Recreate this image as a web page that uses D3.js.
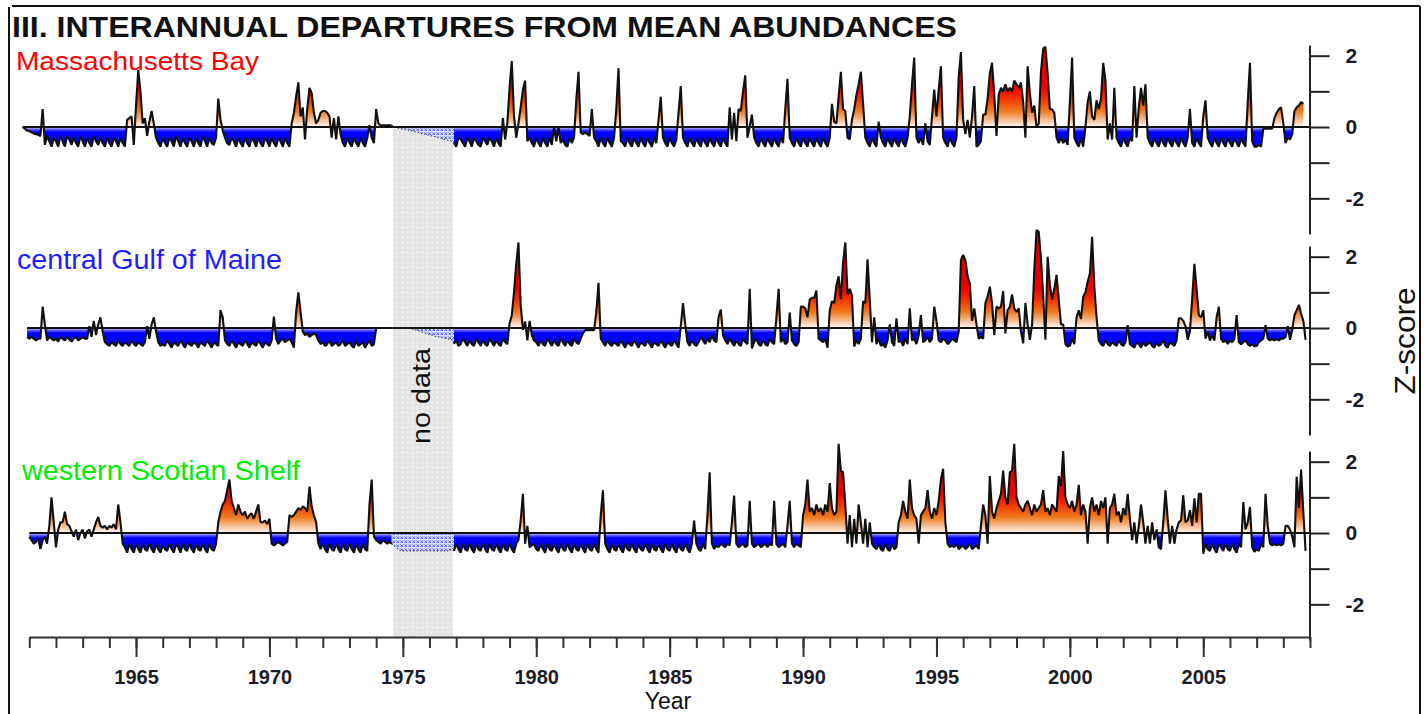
<!DOCTYPE html>
<html>
<head>
<meta charset="utf-8">
<script src="https://cdn.jsdelivr.net/npm/d3@7"></script>
<style>
  body { margin: 0; background: #fff; }
  svg { display: block; }
  text { font-family: "Liberation Sans", Arial, sans-serif; }
</style>
</head>
<body>
<svg id="chart" width="1427" height="714"></svg>
<script>
// Monthly Z-scores, one row per year (Jan..Dec)
const massBayStart = 1960.75;
const massBay = [
  0, -0.05, -0.1,
  -0.12,-0.15,-0.18,-0.2,-0.22,-0.25,0.5,-0.5,-0.25,-0.4,-0.55,-0.3,
  -0.4,-0.55,-0.25,-0.4,-0.55,-0.25,-0.35,-0.5,-0.3,-0.45,-0.55,-0.25,
  -0.4,-0.55,-0.3,-0.45,-0.55,-0.25,-0.4,-0.5,-0.3,-0.45,-0.55,-0.3,
  -0.45,-0.55,-0.3,-0.4,-0.55,-0.3,-0.45,-0.55,0.2,0.25,0.3,-0.5,
  0.6,1.6,1.0,0.1,0.25,-0.25,0.15,0.45,0.1,-0.3,-0.45,-0.55,
  -0.3,-0.45,-0.55,-0.3,-0.4,-0.55,-0.25,-0.4,-0.55,-0.3,-0.45,-0.55,
  -0.3,-0.4,-0.55,-0.3,-0.45,-0.55,-0.25,-0.4,-0.55,-0.3,-0.45,-0.5,
  -0.3,0.8,0.2,-0.1,-0.3,-0.45,-0.5,-0.3,-0.4,-0.55,-0.3,-0.45,
  -0.55,-0.3,-0.45,-0.55,-0.3,-0.4,-0.55,-0.3,-0.45,-0.55,-0.3,-0.4,
  -0.55,-0.3,-0.45,-0.55,-0.3,-0.4,-0.55,-0.3,-0.45,-0.55,0.1,0.4,
  0.85,1.25,0.3,0.55,-0.35,0.5,1.1,0.95,0.4,0.1,0.2,0.4,
  0.45,0.45,0.4,0.3,-0.3,0.25,-0.35,0.3,-0.2,-0.45,-0.55,-0.3,
  -0.45,-0.55,-0.3,-0.45,-0.55,-0.3,-0.45,-0.55,-0.3,0.05,-0.3,-0.45,
  0.5,0.1,0.05,0.05,0.05,0.05,0.05,0.05,0.03,0.0,-0.03,-0.05,
  -0.05,-0.06,-0.08,-0.1,-0.1,-0.12,-0.14,-0.15,-0.17,-0.19,-0.2,-0.22,
  -0.23,-0.25,-0.26,-0.28,-0.3,-0.31,-0.33,-0.35,-0.37,-0.38,-0.4,-0.45,
  -0.55,-0.3,-0.35,-0.45,-0.55,-0.3,-0.4,-0.55,-0.3,-0.4,-0.5,-0.55,
  -0.3,-0.4,-0.5,-0.3,-0.4,-0.55,-0.3,-0.45,-0.55,0.25,-0.35,0.1,
  1.1,1.85,0.3,-0.3,0.1,0.55,1.05,1.3,-0.4,-0.3,-0.45,-0.55,
  -0.3,-0.45,-0.55,-0.3,-0.45,-0.55,-0.3,-0.5,0.0,-0.4,0.0,-0.45,
  -0.35,-0.5,-0.55,-0.3,-0.45,-0.3,0.75,1.55,-0.15,-0.2,-0.15,-0.2,
  -0.25,0.5,-0.3,-0.4,-0.55,-0.3,-0.45,-0.55,-0.3,-0.45,-0.55,-0.3,
  0.5,1.65,-0.4,-0.45,-0.55,-0.3,-0.45,-0.55,-0.3,-0.45,-0.55,-0.3,
  -0.45,-0.55,-0.3,-0.45,-0.55,-0.3,-0.45,0.2,0.85,-0.3,-0.45,-0.55,
  -0.3,-0.45,-0.55,-0.35,0.4,1.15,-0.3,-0.45,-0.55,-0.3,-0.45,-0.55,
  -0.3,-0.45,-0.55,-0.3,-0.45,-0.55,-0.3,-0.45,-0.55,-0.3,-0.45,-0.55,
  -0.3,-0.45,-0.55,0.55,-0.35,0.4,-0.4,0.5,0.45,1.0,1.45,-0.3,
  0.0,0.35,-0.3,-0.45,-0.55,-0.3,-0.45,-0.55,-0.3,-0.45,-0.55,-0.3,
  -0.45,-0.55,-0.3,-0.45,0.5,1.35,-0.3,-0.45,-0.55,-0.3,-0.45,-0.55,
  -0.3,-0.45,-0.55,-0.3,-0.45,-0.55,-0.3,-0.45,-0.55,-0.3,-0.45,-0.55,
  -0.3,0.65,0.15,0.1,0.85,1.55,0.5,0.45,-0.3,-0.35,0.2,0.5,
  0.9,1.2,1.55,0.65,-0.3,-0.45,-0.55,-0.3,-0.45,-0.55,0.15,-0.3,
  -0.45,-0.55,-0.3,-0.45,-0.55,-0.3,-0.45,-0.55,-0.3,-0.45,-0.55,-0.3,
  0.3,1.2,1.95,-0.3,-0.45,-0.3,-0.5,0.1,-0.4,-0.5,0.3,1.05,
  0.3,1.05,1.7,-0.3,-0.45,-0.55,-0.3,-0.45,-0.55,-0.3,1.4,2.1,
  0.2,-0.2,0.2,-0.3,0.3,1.15,-0.55,-0.5,-0.4,0.35,0.35,0.8,
  1.5,1.8,0.9,-0.25,0.9,1.1,1.0,1.2,1.0,1.1,1.0,1.3,
  1.2,1.1,1.25,0.7,-0.3,1.7,0.95,0.4,0.6,0.0,0.1,1.55,
  2.2,2.25,1.5,0.5,0.5,0.4,-0.3,-0.45,-0.3,-0.45,-0.35,-0.5,
  0.7,1.95,-0.3,-0.45,-0.55,-0.3,-0.55,0.0,0.7,1.0,0.3,0.2,
  0.75,0.5,0.8,1.8,1.3,-0.35,0.1,-0.35,1.1,-0.3,-0.45,-0.55,
  -0.3,-0.45,-0.55,-0.3,-0.4,1.15,-0.3,0.55,1.1,0.6,1.2,-0.3,
  -0.45,-0.55,-0.3,-0.45,-0.55,-0.3,-0.45,-0.55,-0.3,-0.45,-0.55,-0.3,
  -0.45,-0.55,-0.3,-0.45,-0.55,-0.3,0.5,-0.45,-0.55,-0.3,-0.45,-0.55,
  0.3,0.75,-0.3,-0.45,-0.55,-0.3,-0.45,-0.55,-0.3,-0.45,-0.55,-0.3,
  -0.45,-0.55,-0.3,-0.45,-0.55,-0.3,-0.45,-0.55,0.7,1.8,-0.4,-0.55,
  -0.55,-0.5,-0.55,-0.05,-0.05,-0.05,-0.05,-0.05,0.25,0.4,0.5,0.55,
  0.1,-0.45,-0.3,-0.35,-0.2,0.45,0.55,0.6,0.7,0.65
];

const gulfMaineStart = 1960.917;
const gulfMaine = [
  -0.25,
  -0.3,-0.25,-0.3,-0.35,-0.3,-0.3,0.6,0.1,-0.35,-0.25,-0.3,-0.35,
  -0.3,-0.38,-0.25,-0.3,-0.35,-0.25,-0.32,-0.38,-0.3,-0.25,-0.35,-0.3,
  -0.25,-0.3,-0.3,0.05,-0.25,0.2,-0.2,0.1,0.3,-0.1,-0.4,-0.45,
  -0.5,-0.4,-0.45,-0.5,-0.35,-0.45,-0.5,-0.4,-0.45,-0.5,-0.35,-0.45,
  -0.5,-0.4,-0.45,-0.5,-0.4,0.05,-0.3,0.1,0.3,-0.1,-0.4,-0.5,
  -0.45,-0.5,-0.35,-0.45,-0.55,-0.4,-0.45,-0.5,-0.35,-0.45,-0.55,-0.4,
  -0.45,-0.5,-0.4,-0.45,-0.55,-0.4,-0.45,-0.5,-0.35,-0.45,-0.55,-0.4,
  -0.45,-0.5,0.5,0.3,-0.35,-0.45,-0.5,-0.35,-0.45,-0.55,-0.4,-0.45,
  -0.5,-0.35,-0.45,-0.55,-0.4,-0.45,-0.5,-0.35,-0.45,-0.55,-0.4,-0.45,
  -0.5,-0.35,0.32,-0.3,-0.45,-0.35,-0.3,-0.4,-0.35,-0.3,-0.4,-0.55,
  0.45,1.0,0.45,-0.1,-0.2,-0.15,-0.25,-0.2,-0.15,-0.2,-0.35,-0.45,
  -0.4,-0.5,-0.45,-0.35,-0.5,-0.45,-0.4,-0.5,-0.45,-0.35,-0.5,-0.45,
  -0.4,-0.5,-0.55,-0.35,-0.5,-0.45,-0.4,-0.55,-0.45,-0.35,-0.5,-0.45,
  0,0,0,0,0,0,0,0,0,0,0,0,
  0,0,0,0,-0.02,-0.04,-0.06,-0.08,-0.1,-0.12,-0.14,-0.16,
  -0.18,-0.2,-0.22,-0.24,-0.25,-0.26,-0.28,-0.29,-0.3,-0.31,-0.33,-0.45,
  -0.35,-0.5,-0.45,-0.3,-0.4,-0.5,-0.35,-0.45,-0.5,-0.3,-0.4,-0.5,
  -0.35,-0.45,-0.5,-0.3,-0.4,-0.5,-0.35,-0.45,-0.5,-0.3,-0.4,-0.45,
  0.13,0.36,1.0,1.8,2.4,0.65,-0.05,0.18,-0.35,0.2,-0.2,-0.35,
  -0.4,-0.5,-0.35,-0.45,-0.5,-0.3,-0.4,-0.5,-0.35,-0.45,-0.5,-0.3,
  -0.4,-0.5,-0.35,-0.45,-0.5,-0.3,-0.4,-0.45,-0.3,-0.15,-0.06,-0.06,
  -0.06,-0.06,-0.06,0.45,1.27,-0.3,-0.4,-0.5,-0.35,-0.45,-0.5,-0.4,
  -0.45,-0.5,-0.35,-0.45,-0.55,-0.4,-0.45,-0.5,-0.35,-0.45,-0.55,-0.4,
  -0.45,-0.5,-0.35,-0.45,-0.55,-0.4,-0.45,-0.5,-0.35,-0.45,-0.55,-0.4,
  -0.45,-0.5,-0.35,-0.45,-0.55,0.05,0.7,0.1,-0.4,-0.5,-0.35,-0.45,
  -0.5,-0.4,-0.25,-0.35,-0.45,-0.3,-0.4,-0.2,-0.35,-0.4,0.3,0.52,
  -0.2,-0.35,-0.45,-0.3,-0.4,-0.5,-0.35,-0.45,-0.5,-0.3,-0.4,-0.45,
  1.1,-0.57,-0.4,-0.3,-0.45,-0.5,-0.35,-0.45,-0.5,-0.3,-0.4,-0.45,
  0.3,1.1,-0.4,-0.3,-0.45,-0.4,0.43,-0.35,-0.45,-0.5,-0.4,0.6,
  0.6,0.55,0.3,0.8,0.85,0.85,1.05,-0.3,-0.35,-0.4,-0.3,-0.55,
  0.5,0.75,0.7,1.2,1.45,0.8,1.85,2.4,0.95,1.1,0.9,-0.52,
  -0.35,-0.45,-0.3,0.75,0.7,1.93,0.8,-0.4,0.3,-0.45,-0.3,-0.5,
  -0.45,-0.55,-0.35,0.1,-0.4,-0.5,0.27,-0.4,-0.35,-0.5,-0.3,-0.45,
  0.55,-0.35,-0.3,-0.45,-0.2,0.36,-0.4,-0.35,-0.25,-0.4,-0.3,0.6,
  0.2,-0.35,-0.4,-0.3,-0.35,-0.45,-0.4,-0.3,-0.35,-0.4,-0.1,1.9,
  2.05,1.9,1.45,1.25,0.2,0.55,0.1,-0.3,-0.25,-0.3,0.7,0.88,
  1.16,0.7,-0.2,0.6,0.55,0.6,1.04,-0.15,0.5,0.6,0.94,0.55,
  0.45,0.55,-0.1,-0.43,0.7,0.1,-0.33,0.1,1.63,2.75,2.7,1.95,
  0.9,-0.33,2.0,1.2,0.8,1.1,1.49,0.8,0.1,0.1,-0.45,-0.52,
  -0.5,-0.3,-0.45,0.3,0.5,0.25,0.88,1.0,1.3,1.53,2.56,1.16,
  0.3,-0.35,-0.45,-0.5,-0.35,-0.45,-0.5,-0.4,-0.45,-0.5,-0.35,-0.45,
  -0.5,-0.4,0.08,-0.45,-0.5,-0.55,-0.4,-0.45,-0.55,-0.4,-0.5,-0.45,
  -0.4,-0.5,-0.55,-0.4,-0.5,-0.45,-0.35,-0.5,-0.55,-0.4,-0.45,-0.5,
  -0.35,0.27,0.27,0.2,0.05,-0.33,-0.1,0.83,1.8,1.1,0.36,0.3,
  0.5,-0.3,-0.1,-0.35,-0.2,-0.35,0.3,0.6,-0.3,-0.4,-0.35,-0.45,
  -0.35,-0.4,-0.3,0.36,-0.4,-0.45,-0.4,-0.35,-0.45,-0.5,-0.45,-0.52,
  -0.5,-0.4,-0.35,-0.3,0.08,-0.3,-0.35,-0.3,-0.35,-0.3,-0.35,-0.3,
  -0.3,-0.25,0.05,-0.33,-0.05,0.36,0.5,0.65,0.4,0.2,-0.33
];

const scotianShelfStart = 1961.0;
const scotianShelf = [
  -0.1,-0.2,-0.3,-0.25,-0.15,-0.45,-0.2,-0.1,-0.3,0.2,1.0,0.3,
  -0.4,0.1,0.3,0.3,0.6,0.25,0.2,0.05,-0.1,0.1,-0.2,0.0,
  0.1,-0.15,0.05,0.1,-0.1,0.1,0.3,0.45,0.2,0.15,0.2,0.1,
  0.2,0.15,0.25,0.1,0.8,0.3,-0.3,-0.4,-0.55,-0.3,-0.45,-0.55,
  -0.3,-0.45,-0.55,-0.3,-0.45,-0.5,-0.3,-0.45,-0.55,-0.3,-0.45,-0.55,
  -0.35,-0.45,-0.5,-0.3,-0.45,-0.55,-0.3,-0.4,-0.55,-0.3,-0.45,-0.5,
  -0.3,-0.45,-0.55,-0.3,-0.45,-0.5,-0.3,-0.45,-0.55,-0.3,-0.45,-0.5,
  -0.3,0.3,0.6,0.8,0.9,1.2,1.5,0.9,0.7,0.5,0.8,0.6,
  0.5,0.6,0.4,0.5,0.55,0.4,0.6,0.8,0.3,0.3,0.35,0.25,
  0.4,-0.3,-0.35,-0.3,-0.25,-0.3,-0.35,-0.3,-0.25,0.5,0.45,0.5,
  0.6,0.7,0.65,0.75,0.7,0.6,1.3,0.75,0.5,0.3,-0.3,-0.45,
  -0.3,-0.45,-0.55,-0.3,-0.45,-0.5,-0.3,-0.45,-0.55,-0.3,-0.45,-0.5,
  -0.3,-0.45,-0.55,-0.3,-0.45,-0.55,-0.3,-0.45,-0.5,0.8,1.5,-0.1,
  -0.2,-0.25,-0.3,-0.2,-0.25,-0.3,-0.25,-0.3,-0.35,-0.4,-0.45,-0.5,
  -0.5,-0.5,-0.5,-0.5,-0.5,-0.5,-0.5,-0.5,-0.5,-0.5,-0.5,-0.5,
  -0.5,-0.5,-0.5,-0.5,-0.5,-0.5,-0.5,-0.5,-0.5,-0.5,-0.45,-0.5,
  -0.3,-0.45,-0.55,-0.3,-0.45,-0.5,-0.3,-0.45,-0.55,-0.3,-0.45,-0.5,
  -0.3,-0.45,-0.55,-0.3,-0.45,-0.5,-0.3,-0.45,-0.55,-0.3,-0.45,-0.5,
  -0.3,-0.45,-0.55,-0.3,-0.2,0.35,1.1,-0.3,0.2,-0.4,-0.35,-0.3,
  -0.45,-0.5,-0.3,-0.45,-0.55,-0.3,-0.45,-0.5,-0.3,-0.45,-0.55,-0.3,
  -0.45,-0.5,-0.3,-0.45,-0.55,-0.3,-0.45,-0.5,-0.3,-0.45,-0.55,-0.3,
  -0.45,-0.5,-0.3,-0.45,-0.55,0.5,1.2,-0.3,-0.45,-0.55,-0.3,-0.45,
  -0.5,-0.3,-0.45,-0.55,-0.3,-0.45,-0.5,-0.3,-0.45,-0.55,-0.3,-0.45,
  -0.5,-0.3,-0.45,-0.55,-0.3,-0.45,-0.5,-0.3,-0.45,-0.55,-0.3,-0.45,
  -0.5,-0.3,-0.45,-0.55,-0.3,-0.45,-0.5,-0.3,-0.45,-0.55,-0.3,0.35,
  -0.3,-0.45,-0.5,-0.3,-0.45,0.5,1.7,-0.3,-0.45,-0.35,-0.4,-0.3,
  -0.35,-0.4,-0.3,-0.35,0.3,1.05,-0.3,-0.4,-0.35,-0.3,-0.4,-0.35,
  0.9,-0.3,-0.4,-0.35,-0.3,-0.4,-0.35,-0.3,-0.4,-0.3,-0.35,0.9,
  -0.3,-0.4,-0.35,-0.3,-0.4,0.2,0.9,-0.3,-0.4,-0.3,-0.35,-0.4,
  0.5,0.8,1.5,0.6,0.7,0.5,0.8,0.6,0.7,0.5,0.8,0.6,
  1.4,0.7,0.5,0.6,2.5,1.75,1.7,0.8,-0.3,0.5,-0.4,0.4,
  -0.3,0.8,0.3,-0.3,0.4,-0.4,0.3,-0.3,-0.4,-0.45,-0.3,-0.45,
  -0.5,-0.3,-0.45,-0.5,-0.3,-0.45,-0.4,0.3,0.5,0.9,0.6,0.4,
  1.5,0.7,0.5,0.4,-0.3,0.5,0.6,0.7,1.2,0.6,0.4,0.7,
  0.5,0.9,1.5,1.8,0.3,-0.3,-0.4,-0.35,-0.4,-0.3,-0.45,-0.4,
  -0.35,-0.45,-0.4,-0.3,-0.45,-0.4,-0.35,-0.45,0.2,0.8,0.5,-0.3,
  1.6,0.6,0.4,0.7,0.9,1.1,1.75,1.0,0.8,1.7,1.75,2.5,
  1.0,0.8,0.7,0.6,0.8,0.9,0.7,0.5,0.8,0.6,0.7,0.8,
  1.2,0.6,0.7,0.5,0.8,0.7,0.6,1.6,1.3,2.3,1.0,0.8,
  0.7,0.9,0.6,0.8,1.35,0.5,0.8,0.6,-0.3,0.7,1.0,0.6,
  0.8,0.5,0.9,0.7,1.0,-0.3,0.7,0.8,1.1,0.5,0.6,0.3,
  0.7,0.5,1.1,0.4,-0.2,0.3,-0.3,0.2,0.8,0.3,-0.3,0.2,
  -0.3,0.3,-0.2,0.1,-0.4,-0.45,0.3,1.2,0.4,-0.3,0.2,-0.3,
  0.1,0.3,0.36,1.06,0.3,0.36,0.64,0.2,0.97,0.3,1.1,1.1,
  -0.58,-0.3,-0.45,-0.5,-0.3,-0.45,-0.55,-0.3,-0.4,-0.5,-0.3,-0.45,
  -0.5,-0.3,-0.45,-0.55,-0.3,-0.4,0.87,0.1,0.3,0.73,-0.4,-0.53,
  -0.45,-0.5,-0.3,-0.4,1.1,0.2,-0.3,-0.35,-0.3,-0.35,-0.3,-0.35,
  -0.3,0.2,0.2,0.1,-0.1,-0.4,1.58,0.7,1.78,0.6,-0.5
];

const panelNames = ["Massachusetts Bay", "central Gulf of Maine", "western Scotian Shelf"];
const panelColors = ["#ff0000", "#1e1eff", "#00ee00"];
const yTickValues = [-2, -1, 0, 1, 2];
const yTickLabels = { "-2": "-2", "0": "0", "2": "2" };
const yearMinorTicks = d3.range(1961, 2010);
const yearMajorTicks = [1965, 1970, 1975, 1980, 1985, 1990, 1995, 2000, 2005];
const noDataSpan = [1974.63, 1976.88];

const series = [
  { start: massBayStart, values: massBay },
  { start: gulfMaineStart, values: gulfMaine },
  { start: scotianShelfStart, values: scotianShelf }
];

const svg = d3.select("#chart");
const defs = svg.append("defs");

const x = d3.scaleLinear().domain([1961, 2009]).range([29.3, 1310]);
const yDomain = [-3, 2.3];
const unit = 35.66;
const panelTops = [45, 246, 451];
const panelH = (yDomain[1] - yDomain[0]) * unit;
const axisX = 1309.5;
const xAxisY = 637;

// hatched backgrounds
const grayPat = defs.append("pattern").attr("id", "grayHatch")
  .attr("patternUnits", "userSpaceOnUse").attr("width", 5).attr("height", 5);
grayPat.append("rect").attr("width", 5).attr("height", 5).attr("fill", "#e3e3e3");
grayPat.append("path").attr("d", "M1,1L4,4M4,1L1,4").attr("stroke", "#f6f6f6").attr("stroke-width", 0.8);

const bluePat = defs.append("pattern").attr("id", "blueHatch")
  .attr("patternUnits", "userSpaceOnUse").attr("width", 4).attr("height", 4);
bluePat.append("rect").attr("width", 4).attr("height", 4).attr("fill", "#dfe2ff");
bluePat.append("path").attr("d", "M0.5,0.5L3,3M3,0.5L0.5,3").attr("stroke", "#3a48ff").attr("stroke-width", 0.9);

// frame
svg.append("path").attr("d", "M12,6H1420M9,7V714M1420,6V714")
  .attr("fill", "none").attr("stroke", "#111").attr("stroke-width", 2);

// title
svg.append("text").attr("x", 12).attr("y", 37)
  .attr("font-size", 30).attr("font-weight", "bold").attr("fill", "#111")
  .attr("textLength", 945).attr("lengthAdjust", "spacingAndGlyphs")
  .text("III. INTERANNUAL DEPARTURES FROM MEAN ABUNDANCES");

// no-data band
svg.append("rect")
  .attr("x", x(noDataSpan[0])).attr("y", 129)
  .attr("width", x(noDataSpan[1]) - x(noDataSpan[0])).attr("height", xAxisY - 129)
  .attr("fill", "url(#grayHatch)");

svg.append("text")
  .attr("transform", `translate(430,396) rotate(-90)`)
  .attr("text-anchor", "middle").attr("font-size", 26).attr("fill", "#111")
  .attr("textLength", 96).attr("lengthAdjust", "spacingAndGlyphs")
  .text("no data");

const labelPos = [
  { x: 16, y: 70, size: 26, len: 243 },
  { x: 17, y: 269, size: 27, len: 265 },
  { x: 22, y: 480, size: 27, len: 278 }
];

series.forEach((s, k) => {
  const top = panelTops[k];
  const y = d3.scaleLinear().domain(yDomain).range([top + panelH, top]);
  const g = svg.append("g");

  // vertical colour ramp: red/orange above zero, blue below
  const gid = "ramp" + k;
  const grad = defs.append("linearGradient").attr("id", gid)
    .attr("gradientUnits", "userSpaceOnUse")
    .attr("x1", 0).attr("x2", 0).attr("y1", y(yDomain[1])).attr("y2", y(yDomain[0]));
  const off = v => (yDomain[1] - v) / (yDomain[1] - yDomain[0]);
  [[2.3, "#d80000"], [1.1, "#f20000"], [0.75, "#f23c00"], [0.45, "#f07a1e"],
   [0.22, "#f6b98c"], [0.02, "#fff2ea"], [0.0, "#fff2ea"],
   [-0.001, "#d4d4ff"], [-0.07, "#5a5aff"], [-0.14, "#0000ff"], [-3, "#0000ff"]]
    .forEach(([v, c]) => grad.append("stop").attr("offset", off(v)).attr("stop-color", c));

  const pts = s.values.map((v, i) => ({ t: s.start + i / 12, v }));
  const solid = d => d.t <= noDataSpan[0] || d.t >= noDataSpan[1] - 0.02;
  const dotted = d => d.t >= noDataSpan[0] - 1 / 12 && d.t <= noDataSpan[1] + 1 / 12;

  const area = d3.area().curve(d3.curveLinear)
    .x(d => x(d.t)).y0(y(0)).y1(d => y(d.v));
  const line = d3.line().curve(d3.curveLinear)
    .x(d => x(d.t)).y(d => y(d.v));

  g.append("path").datum(pts).attr("d", area.defined(solid))
    .attr("fill", `url(#${gid})`);
  g.append("path").datum(pts).attr("d", area.defined(dotted))
    .attr("fill", "url(#blueHatch)");

  // zero line
  g.append("line").attr("x1", x(s.start)).attr("x2", axisX)
    .attr("y1", y(0)).attr("y2", y(0)).attr("stroke", "#111").attr("stroke-width", 1.8);

  g.append("path").datum(pts).attr("d", line.defined(solid))
    .attr("fill", "none").attr("stroke", "#111").attr("stroke-width", 2.1)
    .attr("stroke-linejoin", "bevel");
  g.append("path").datum(pts).attr("d", line.defined(dotted))
    .attr("fill", "none").attr("stroke", "#333").attr("stroke-width", 1.2)
    .attr("stroke-dasharray", "1.2,2.2");

  // right-hand Z-score axis
  const ax = g.append("g").attr("transform", `translate(${axisX},0)`)
    .call(d3.axisRight(y).tickValues(yTickValues).tickSize(20).tickSizeOuter(0)
      .tickPadding(16).tickFormat(d => yTickLabels[String(d)] || ""));
  ax.select(".domain").attr("stroke", "#222").attr("stroke-width", 2);
  ax.selectAll(".tick line").attr("stroke", "#222").attr("stroke-width", 2);
  ax.selectAll(".tick text").attr("font-size", 21).attr("font-weight", "bold")
    .attr("font-family", "'Liberation Sans', Arial, sans-serif").attr("fill", "#1c1c28");

  const lp = labelPos[k];
  svg.append("text").attr("x", lp.x).attr("y", lp.y)
    .attr("font-size", lp.size).attr("fill", panelColors[k])
    .attr("textLength", lp.len).attr("lengthAdjust", "spacingAndGlyphs")
    .text(panelNames[k]);
});

// year axis
const minor = svg.append("g").attr("transform", `translate(0,${xAxisY})`)
  .call(d3.axisBottom(x).tickValues(yearMinorTicks).tickSize(11).tickSizeOuter(0).tickFormat(""));
minor.select(".domain").attr("stroke", "#333").attr("stroke-width", 2);
minor.selectAll(".tick line").attr("stroke", "#333").attr("stroke-width", 2);

const major = svg.append("g").attr("transform", `translate(0,${xAxisY})`)
  .call(d3.axisBottom(x).tickValues(yearMajorTicks).tickSize(20).tickPadding(12.5)
    .tickFormat(d3.format("d")));
major.select(".domain").remove();
major.selectAll(".tick line").attr("stroke", "#333").attr("stroke-width", 2);
major.selectAll(".tick text").attr("font-size", 20).attr("font-weight", "bold")
  .attr("font-family", "'Liberation Sans', Arial, sans-serif").attr("fill", "#1c1c28");

svg.append("text").attr("x", 668).attr("y", 709).attr("text-anchor", "middle")
  .attr("font-size", 23).attr("fill", "#111").text("Year");

svg.append("text")
  .attr("transform", "translate(1415,341) rotate(-90)")
  .attr("text-anchor", "middle").attr("font-size", 30).attr("fill", "#111")
  .attr("textLength", 107).attr("lengthAdjust", "spacingAndGlyphs")
  .text("Z-score");
</script>
</body>
</html>
